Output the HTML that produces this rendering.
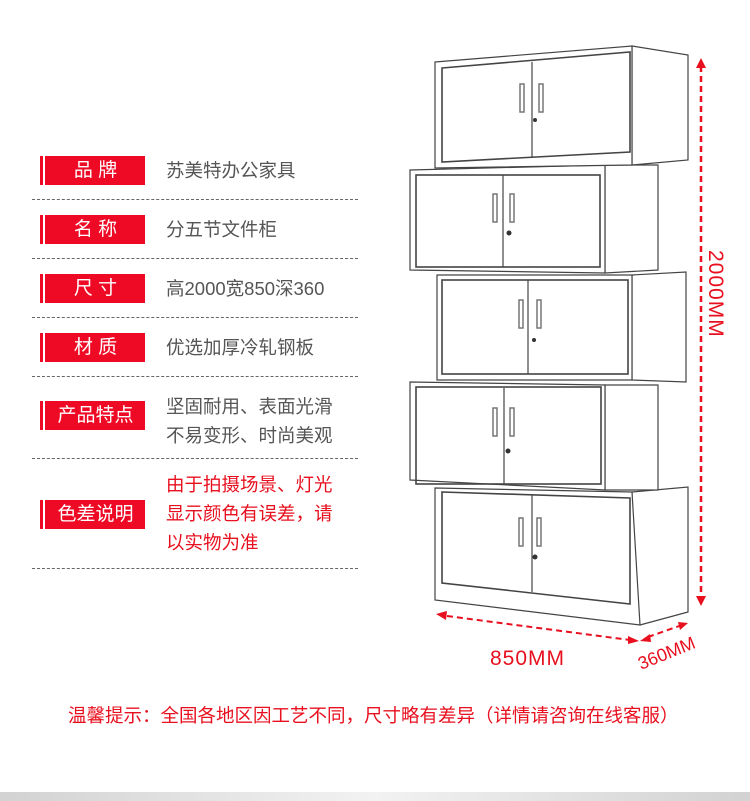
<!DOCTYPE html>
<html><head><meta charset="utf-8"><style>
body{margin:0;width:750px;height:801px;background:#fff;position:relative;overflow:hidden;font-family:"Liberation Sans","Noto Sans CJK SC",sans-serif}
.lab{position:absolute;left:40px;width:105px;height:29px;background:#ee0a24;color:#fff;font-size:19px;line-height:29px;text-align:center}
.lab:before{content:"";position:absolute;left:3px;top:0;width:2px;height:29px;background:#fff}
.lab span{padding-left:6px}
.txt{position:absolute;left:166px;font-size:18.5px;color:#555;line-height:29px;white-space:nowrap}
.red{color:#e8101f}
.dash{position:absolute;left:32px;width:326px;border-top:1px dashed #666}
.bar{position:absolute;left:0;top:792px;width:750px;height:9px;background:linear-gradient(90deg,#d2d2d2,#f2f2f2 50%,#d2d2d2)}
</style></head><body>
<div class="lab" style="top:156px"><span>品 牌</span></div><div class="txt" style="top:156px">苏美特办公家具</div>
<div class="dash" style="top:199px"></div>
<div class="lab" style="top:215px"><span>名 称</span></div><div class="txt" style="top:215px">分五节文件柜</div>
<div class="dash" style="top:258px"></div>
<div class="lab" style="top:274px"><span>尺 寸</span></div><div class="txt" style="top:274px">高2000宽850深360</div>
<div class="dash" style="top:317px"></div>
<div class="lab" style="top:333px"><span>材 质</span></div><div class="txt" style="top:333px">优选加厚冷轧钢板</div>
<div class="dash" style="top:376px"></div>
<div class="lab" style="top:401px"><span>产品特点</span></div><div class="txt" style="top:392px">坚固耐用、表面光滑<br>不易变形、时尚美观</div>
<div class="dash" style="top:458px"></div>
<div class="lab" style="top:500px"><span>色差说明</span></div><div class="txt red" style="top:470px;line-height:29px">由于拍摄场景、灯光<br>显示颜色有误差，请<br>以实物为准</div>
<div class="dash" style="top:568px"></div>
<svg style="position:absolute;left:0;top:0" width="750" height="801">
<g fill="#fff" stroke="#444" stroke-width="1.2">
<polygon points="632,492 688,487 688,612 640,625 632,605"/>
<polygon points="435,488 632,492 640,625 435,600"/>
<polygon points="442,492 630,498 630,604 442,583" fill="none" stroke-width="1.6"/>
<line x1="532" y1="495" x2="532" y2="592"/>
<polygon points="605,385 658,385 658,490 605,490"/>
<polygon points="410,382 605,385 605,490 410,480"/>
<rect x="416" y="387" width="185" height="97" fill="none" stroke-width="1.6"/>
<line x1="504" y1="388" x2="504" y2="484"/>
<polygon points="632,275 686,272 686,382 632,380"/>
<polygon points="437,275 632,275 632,380 437,380"/>
<rect x="442" y="280" width="186" height="94" fill="none" stroke-width="1.6"/>
<line x1="528" y1="280" x2="528" y2="374"/>
<polygon points="605,165 658,165 658,270 605,273"/>
<polygon points="410,170 605,165 605,273 410,270"/>
<rect x="416" y="175" width="184" height="92" fill="none" stroke-width="1.6"/>
<line x1="503" y1="175" x2="503" y2="267"/>
<polygon points="632,46 688,55 688,160 632,165"/>
<polygon points="435,62 632,46 632,165 435,168"/>
<polygon points="442,68 630,52 630,152 442,162" fill="none" stroke-width="1.6"/>
<line x1="532" y1="62" x2="532" y2="157"/>
</g>
<g fill="none" stroke="#777" stroke-width="1.5">
<rect x="520" y="84" width="4" height="28"/><rect x="539" y="84" width="4" height="28"/>
<rect x="493" y="194" width="4" height="28"/><rect x="510" y="194" width="4" height="28"/>
<rect x="519" y="300" width="4" height="28"/><rect x="537" y="300" width="4" height="28"/>
<rect x="493" y="408" width="4" height="28"/><rect x="510" y="408" width="4" height="28"/>
<rect x="519" y="518" width="4" height="28"/><rect x="537" y="518" width="4" height="28"/>
</g>
<g fill="#333"><circle cx="535" cy="120" r="2"/><circle cx="509" cy="233" r="2.5"/><circle cx="534" cy="340" r="2"/><circle cx="508" cy="451" r="2.5"/><circle cx="535" cy="557" r="2.5"/></g>
<g stroke="#e8101f" stroke-width="2.5" stroke-dasharray="6,4" fill="#e8101f">
<line x1="701" y1="66" x2="701" y2="598"/>
<line x1="447" y1="616" x2="630" y2="640" stroke-width="2"/>
<line x1="648" y1="637" x2="682" y2="625" stroke-width="2"/>
</g>
<g fill="#e8101f">
<polygon points="701,58 696,68 706,68"/><polygon points="701,606 696,596 706,596"/>
<polygon points="436,614 447,611 446,620"/><polygon points="639,641 628,636 628,644"/>
<polygon points="640,641 650,634 651,642"/><polygon points="688,623 678,622 680,630"/>
</g>
<text x="490" y="665" font-size="21" fill="#e8101f" font-family="Liberation Sans,sans-serif" letter-spacing="1">850MM</text>
<text transform="translate(641,670) rotate(-22)" font-size="18" fill="#e8101f" font-family="Liberation Sans,sans-serif">360MM</text>
<text transform="translate(709,250) rotate(90)" font-size="21" fill="#e8101f" font-family="Liberation Sans,sans-serif" letter-spacing="1">2000MM</text>
</svg>
<div style="position:absolute;left:68px;top:703px;font-size:18.5px;color:#e8101f;line-height:26px;white-space:nowrap">温馨提示：全国各地区因工艺不同，尺寸略有差异（详情请咨询在线客服）</div>
<div class="bar"></div>
</body></html>
